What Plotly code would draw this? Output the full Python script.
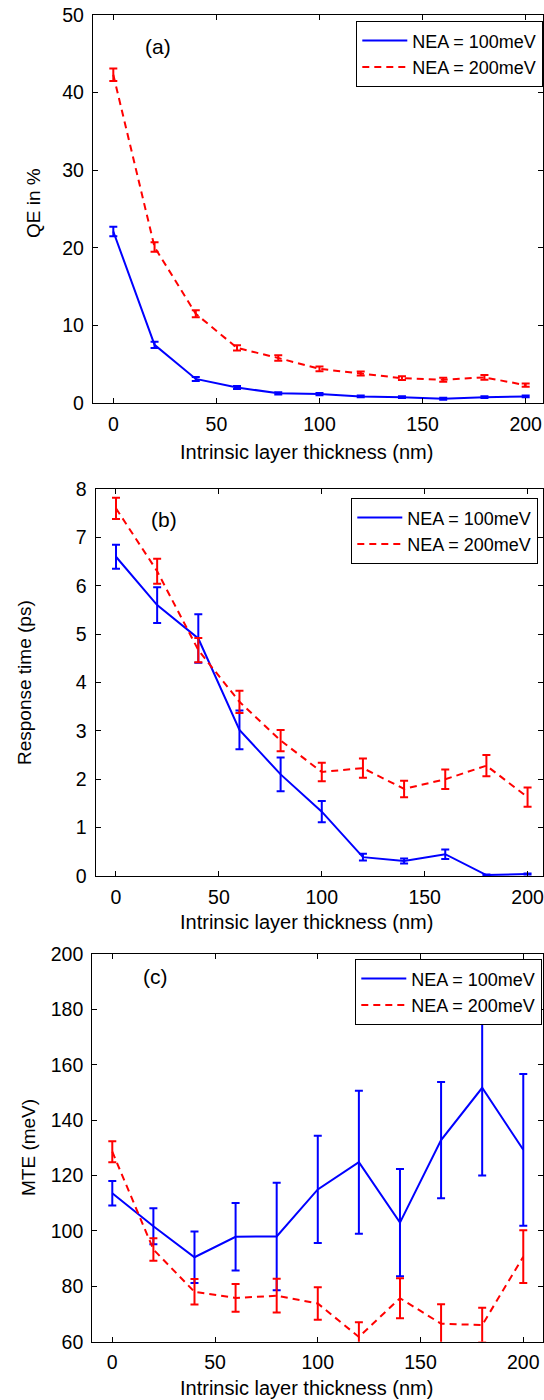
import plotly.graph_objects as go

# ---------------- data ----------------
thickness = [0, 20, 40, 60, 80, 100, 120, 140, 160, 180, 200]

qe_100 = [22.1, 7.5, 3.1, 2.0, 1.25, 1.15, 0.85, 0.75, 0.55, 0.75, 0.85]
qe_100_err = [0.6, 0.4, 0.25, 0.2, 0.15, 0.15, 0.12, 0.12, 0.12, 0.12, 0.12]
qe_200 = [42.3, 20.1, 11.5, 7.1, 5.8, 4.4, 3.8, 3.2, 3.0, 3.3, 2.3]
qe_200_err = [0.8, 0.6, 0.45, 0.35, 0.35, 0.3, 0.25, 0.25, 0.25, 0.3, 0.2]

rt_100 = [6.6, 5.6, 4.91, 3.02, 2.1, 1.33, 0.39, 0.31, 0.45, 0.02, 0.04]
rt_100_err = [0.25, 0.37, 0.5, 0.4, 0.35, 0.22, 0.07, 0.05, 0.1, 0.01, 0.01]
rt_200 = [7.6, 6.3, 4.67, 3.6, 2.8, 2.15, 2.23, 1.8, 2.0, 2.28, 1.63]
rt_200_err = [0.22, 0.26, 0.25, 0.23, 0.22, 0.19, 0.2, 0.17, 0.2, 0.22, 0.2]

mte_100 = [113.6, 101.7, 90.5, 97.9, 98.0, 115.0, 124.8, 103.0, 132.8, 151.7, 129.3]
mte_100_err = [4.4, 6.5, 9.3, 12.2, 19.4, 19.4, 25.8, 19.4, 21.0, 31.7, 27.4]
mte_200 = [128.6, 93.3, 78.0, 75.8, 76.6, 73.8, 61.7, 75.7, 66.5, 66.0, 90.7]
mte_200_err = [3.8, 4.1, 4.6, 5.0, 6.1, 5.9, 5.3, 7.2, 7.0, 6.3, 9.5]

series_names = ["NEA = 100meV", "NEA = 200meV"]
panel_labels = ["(a)", "(b)", "(c)"]
y_titles = ["QE in %", "Response time (ps)", "MTE (meV)"]
x_title = "Intrinsic layer thickness (nm)"
x_ticks = [0, 50, 100, 150, 200]

# ---------------- layout helpers ----------------
W, H = 544, 1400
FONT = "Liberation Sans, Arial, Helvetica, sans-serif"
BLUE = "#0000ff"
RED = "#ff0000"
TICK_SIZE = 19.5
TITLE_SIZE = 20
YTITLE_SIZE = 19
LEG_SIZE = 18

def px_x(p):
    return p / W

def px_y(p):
    return 1 - p / H

panels = [
    dict(l=93, r=543, t=15, b=403, xr=[-9.85, 208.4], yr=[0, 50], dy=10,
         lab=(21.7, 46), ytit=(33, 203), xtit=452, leg=(543, 21)),
    dict(l=95.7, r=543, t=489, b=876, xr=[-9.86, 207.5], yr=[0, 8], dy=1,
         lab=(23.3, 7.36), ytit=(24, 683), xtit=922, leg=(538, 498)),
    dict(l=92.3, r=543, t=954, b=1341.7, xr=[-9.73, 209.6], yr=[60, 200], dy=20,
         lab=(21.1, 191.8), ytit=(28, 1148), xtit=1388, leg=(542, 959)),
]

data = [
    (qe_100, qe_100_err, qe_200, qe_200_err),
    (rt_100, rt_100_err, rt_200, rt_200_err),
    (mte_100, mte_100_err, mte_200, mte_200_err),
]

fig = go.Figure()
layout = dict(
    width=W, height=H,
    margin=dict(l=0, r=0, t=0, b=0),
    paper_bgcolor="white", plot_bgcolor="white",
    font=dict(family=FONT, size=TICK_SIZE, color="black"),
    showlegend=True,
    annotations=[],
)

for i, (p, d) in enumerate(zip(panels, data)):
    sfx = "" if i == 0 else str(i + 1)
    xa, ya = "x" + sfx, "y" + sfx
    leg = "legend" + sfx
    v1, e1, v2, e2 = d
    fig.add_trace(go.Scatter(
        x=thickness, y=v1, mode="lines", name=series_names[0],
        line=dict(color=BLUE, width=2),
        error_y=dict(type="data", array=e1, color=BLUE, thickness=2, width=4),
        xaxis=xa, yaxis=ya, legend=leg))
    fig.add_trace(go.Scatter(
        x=thickness, y=v2, mode="lines", name=series_names[1],
        line=dict(color=RED, width=2, dash="7px,5px"),
        error_y=dict(type="data", array=e2, color=RED, thickness=2, width=4),
        xaxis=xa, yaxis=ya, legend=leg))

    common = dict(showline=True, linecolor="black", linewidth=1.3, mirror="ticks",
                  ticks="inside", ticklen=5, tickcolor="black", tickwidth=1,
                  showgrid=False, zeroline=False, automargin=False,
                  tickfont=dict(family=FONT, size=TICK_SIZE, color="black"))
    layout["xaxis" + sfx] = dict(
        domain=[px_x(p["l"]), px_x(p["r"])], range=p["xr"], anchor=ya,
        tickvals=x_ticks, ticklabelstandoff=3, **common)
    yt = list(range(p["yr"][0], p["yr"][1] + 1, p["dy"]))
    layout["yaxis" + sfx] = dict(
        domain=[px_y(p["b"]), px_y(p["t"])], range=p["yr"], anchor=xa,
        tickvals=yt, ticklabelstandoff=4, **common)
    layout[leg] = dict(
        x=px_x(p["leg"][0]), y=px_y(p["leg"][1]), xanchor="right", yanchor="top",
        xref="paper", yref="paper",
        bgcolor="white", bordercolor="black", borderwidth=1.3,
        font=dict(family=FONT, size=LEG_SIZE, color="black"),
        tracegroupgap=0, itemwidth=45)
    layout["annotations"].append(dict(
        x=p["lab"][0], y=p["lab"][1], xref=xa, yref=ya, text=panel_labels[i],
        showarrow=False, font=dict(family=FONT, size=21, color="black"),
        xanchor="center", yanchor="middle"))
    layout["annotations"].append(dict(
        x=px_x(p["ytit"][0]), y=px_y(p["ytit"][1]), xref="paper", yref="paper",
        text=y_titles[i], textangle=-90, showarrow=False,
        font=dict(family=FONT, size=YTITLE_SIZE, color="black"),
        xanchor="center", yanchor="middle"))
    layout["annotations"].append(dict(
        x=px_x(306.5), y=px_y(p["xtit"]), xref="paper", yref="paper",
        text=x_title, showarrow=False,
        font=dict(family=FONT, size=TITLE_SIZE, color="black"),
        xanchor="center", yanchor="middle"))

fig.update_layout(**layout)
fig.write_html(
    "out.html",
    config={"displayModeBar": False},
    post_script="document.body.style.margin='0';document.body.style.padding='0';"
                "document.documentElement.style.overflow='hidden';",
)
